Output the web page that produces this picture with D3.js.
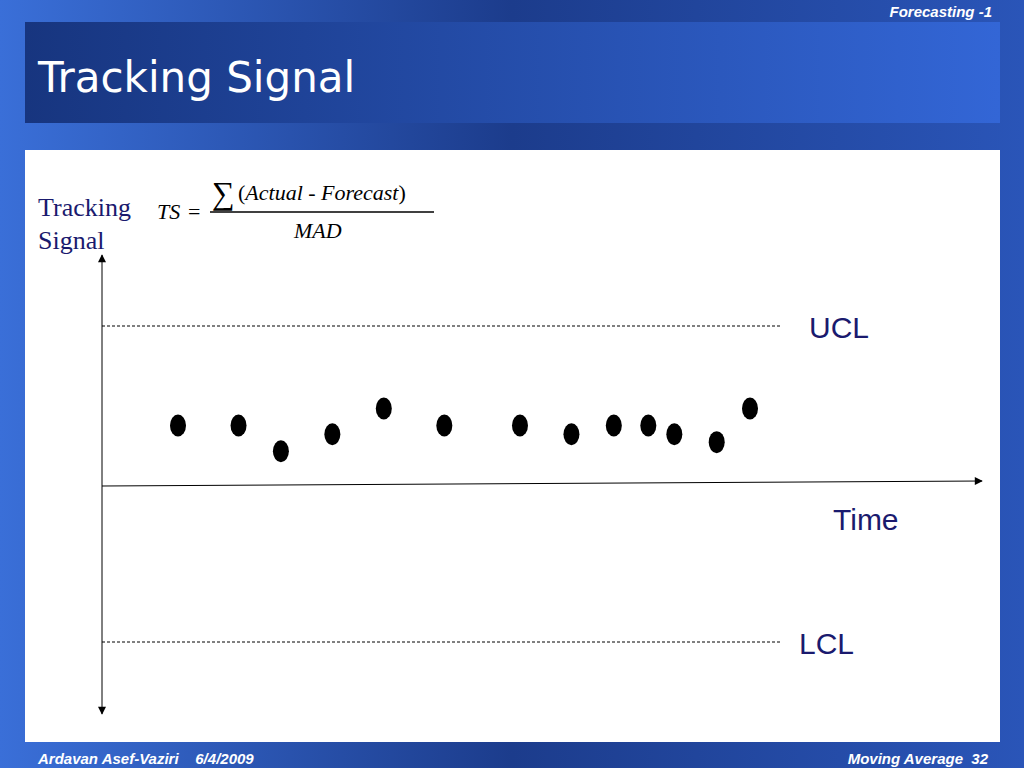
<!DOCTYPE html>
<html><head><meta charset="utf-8">
<script src="https://cdn.jsdelivr.net/npm/d3@7"></script>
<style>body{margin:0}svg{display:block}</style></head>
<body><svg id="s" width="1024" height="768"></svg>
<script>
const times=[1.0,2.0,2.7,3.55,4.4,5.4,6.65,7.5,8.2,8.77,9.2,9.9,10.45];
const signal=[1.48,1.48,0.83,1.26,1.91,1.48,1.48,1.26,1.48,1.48,1.26,1.06,1.91];
const limits=[{label:"UCL",v:4},{label:"LCL",v:-4}];
const svg=d3.select("#s");
const defs=svg.append("defs");
const bg=defs.append("linearGradient").attr("id","bg").attr("x1",0).attr("y1",0).attr("x2",1).attr("y2",0);
bg.append("stop").attr("offset",0).attr("stop-color","#3a6fd8");
bg.append("stop").attr("offset",0.5).attr("stop-color","#1c3c8c");
bg.append("stop").attr("offset",1).attr("stop-color","#2a55b8");
const hg=defs.append("linearGradient").attr("id","hg").attr("x1",0).attr("y1",0).attr("x2",1).attr("y2",0);
hg.append("stop").attr("offset",0).attr("stop-color","#17357f");
hg.append("stop").attr("offset",1).attr("stop-color","#3366d6");
defs.append("marker").attr("id","ar").attr("viewBox","0 0 10 10").attr("refX",9).attr("refY",5)
 .attr("markerWidth",10).attr("markerHeight",8).attr("markerUnits","userSpaceOnUse").attr("orient","auto-start-reverse")
 .append("path").attr("d","M0,0L10,5L0,10z").attr("fill","#000");
svg.append("rect").attr("width",1024).attr("height",768).attr("fill","url(#bg)");
svg.append("rect").attr("x",25).attr("y",22).attr("width",975).attr("height",101).attr("fill","url(#hg)");
svg.append("text").attr("x",38).attr("y",92).attr("fill","#fff").attr("font-family","DejaVu Sans").attr("font-size",42).text("Tracking Signal");
svg.append("text").attr("x",992).attr("y",17).attr("text-anchor","end").attr("fill","#fff").attr("font-family","Liberation Sans").attr("font-weight","bold").attr("font-style","italic").attr("font-size",15).text("Forecasting -1");
svg.append("text").attr("x",38).attr("y",764).attr("fill","#fff").attr("font-family","Liberation Sans").attr("font-weight","bold").attr("font-style","italic").attr("font-size",15).attr("xml:space","preserve").text("Ardavan Asef-Vaziri    6/4/2009");
svg.append("text").attr("x",988).attr("y",764).attr("text-anchor","end").attr("fill","#fff").attr("font-family","Liberation Sans").attr("font-weight","bold").attr("font-style","italic").attr("font-size",15).attr("xml:space","preserve").text("Moving Average  32");
svg.append("rect").attr("x",25).attr("y",150).attr("width",975).attr("height",592).attr("fill","#fff");
const x=d3.scaleLinear().domain([0,1]).range([102,178]).clamp(false);
const xs=d3.scaleLinear().domain([1,10.45]).range([178,750]);
const y=d3.scaleLinear().domain([-4,4]).range([642,326]);
// axes
svg.append("line").attr("x1",102).attr("y1",y(0)+2).attr("x2",982).attr("y2",y(0)-3).attr("stroke","#000").attr("marker-end","url(#ar)");
svg.append("line").attr("x1",102).attr("y1",255).attr("x2",102).attr("y2",714).attr("stroke","#000").attr("marker-start","url(#ar)").attr("marker-end","url(#ar)");
limits.forEach(l=>{
 svg.append("line").attr("x1",102).attr("x2",782).attr("y1",y(l.v)).attr("y2",y(l.v)).attr("stroke","#000").attr("stroke-dasharray","3,2");
 svg.append("text").attr("x",l.v>0?809:799).attr("y",y(l.v)+12).attr("fill","#1a1a6e").attr("font-family","Liberation Sans").attr("font-size",30).text(l.label);
});
svg.append("text").attr("x",833).attr("y",530).attr("fill","#1a1a6e").attr("font-family","Liberation Sans").attr("font-size",30).text("Time");
svg.selectAll("ellipse").data(times).join("ellipse").attr("cx",d=>xs(d)).attr("cy",(d,i)=>y(signal[i])).attr("rx",8).attr("ry",11).attr("fill","#000");
// label + formula
const tf="Liberation Serif";
svg.append("text").attr("x",38).attr("y",216).attr("fill","#1a1a6e").attr("font-family",tf).attr("font-size",26).text("Tracking");
svg.append("text").attr("x",38).attr("y",249).attr("fill","#1a1a6e").attr("font-family",tf).attr("font-size",26).text("Signal");
svg.append("text").attr("x",157).attr("y",219).attr("font-family",tf).attr("font-style","italic").attr("font-size",22).text("TS");
svg.append("text").attr("x",188).attr("y",219).attr("font-family",tf).attr("font-size",22).text("=");
svg.append("text").attr("x",212).attr("y",204).attr("font-family",tf).attr("font-size",32).text("∑");
svg.append("text").attr("x",238).attr("y",200).attr("font-family",tf).attr("font-size",22).attr("xml:space","preserve").html('(<tspan font-style="italic">Actual</tspan> - <tspan font-style="italic">Forecast</tspan>)');
svg.append("line").attr("x1",210).attr("x2",434).attr("y1",212).attr("y2",212).attr("stroke","#000").attr("stroke-width",1.3);
svg.append("text").attr("x",294).attr("y",238).attr("font-family",tf).attr("font-style","italic").attr("font-size",22).text("MAD");
</script></body></html>
